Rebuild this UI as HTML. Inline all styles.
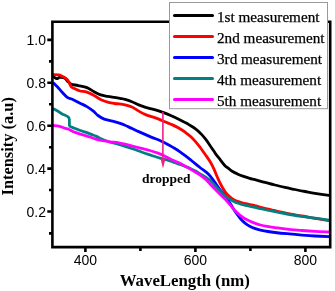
<!DOCTYPE html>
<html><head><meta charset="utf-8">
<style>
html,body{margin:0;padding:0;background:#fff;width:335px;height:291px;overflow:hidden}
svg{display:block;will-change:transform}
.tk{font-family:"Liberation Sans",sans-serif;font-size:14px;fill:#000}
.lg{font-family:"Liberation Serif",serif;font-size:15.2px;fill:#000;stroke:#000;stroke-width:0.25px}
.lb{font-family:"Liberation Serif",serif;font-weight:bold;font-size:16px;fill:#000}
</style></head><body>
<svg width="335" height="291" viewBox="0 0 335 291">
<g id="curves" fill="none" stroke-linejoin="round" stroke-linecap="round" stroke-width="2.8">
<path stroke="#000" d="M53.5,76.7 C54.1,77.0 55.9,78.6 56.9,78.7 C57.9,78.8 58.4,77.5 59.7,77.4 C61.0,77.3 63.0,77.2 64.5,78.0 C66.0,78.8 67.4,81.2 68.6,82.2 C69.8,83.2 69.8,83.6 71.4,84.2 C73.0,84.8 75.6,85.0 78.2,85.6 C80.8,86.2 84.3,86.6 86.9,87.6 C89.5,88.6 91.4,90.3 93.7,91.5 C96.0,92.7 98.3,94.1 100.6,94.9 C102.9,95.7 105.2,95.9 107.5,96.3 C109.8,96.7 112.3,97.0 114.4,97.3 C116.5,97.6 118.2,97.9 120.0,98.3 C121.8,98.7 123.0,98.8 125.0,99.4 C127.0,100.0 129.6,100.9 131.9,101.8 C134.2,102.7 136.4,104.0 138.7,104.9 C141.0,105.8 143.3,106.6 145.6,107.3 C147.9,108.0 150.2,108.5 152.5,109.1 C154.8,109.7 157.3,110.4 159.4,111.1 C161.5,111.8 162.9,112.3 165.0,113.1 C167.1,113.9 169.6,115.0 171.9,116.0 C174.2,117.0 176.5,118.1 178.7,119.2 C180.9,120.3 183.3,121.5 185.2,122.6 C187.1,123.6 188.6,124.5 190.3,125.5 C192.0,126.5 193.8,127.6 195.5,128.9 C197.2,130.2 198.9,131.7 200.6,133.4 C202.3,135.2 204.0,137.1 205.8,139.4 C207.6,141.7 209.6,144.9 211.2,147.2 C212.8,149.5 213.8,151.2 215.3,153.4 C216.9,155.6 218.9,158.0 220.5,160.1 C222.1,162.2 223.7,164.4 225.0,165.8 C226.3,167.2 227.3,167.4 228.5,168.3 C229.7,169.2 230.7,170.4 232.2,171.3 C233.7,172.2 235.5,173.1 237.4,173.9 C239.3,174.8 241.6,175.7 243.6,176.4 C245.6,177.1 247.8,177.8 249.7,178.3 C251.6,178.9 252.4,179.0 255.0,179.7 C257.6,180.4 261.7,181.4 265.0,182.3 C268.3,183.2 271.7,184.2 275.0,185.0 C278.3,185.8 281.7,186.7 285.0,187.4 C288.3,188.2 291.7,188.8 295.0,189.5 C298.3,190.2 301.7,190.9 305.0,191.5 C308.3,192.1 311.0,192.7 315.0,193.3 C319.0,194.0 326.7,195.1 329.0,195.4"/>
<path stroke="#f00" d="M53.5,74.6 C54.4,74.6 57.4,74.6 59.0,74.9 C60.6,75.2 61.7,76.0 63.1,76.7 C64.5,77.5 66.2,78.4 67.2,79.4 C68.2,80.4 68.6,81.6 69.3,82.9 C70.0,84.2 70.4,86.0 71.4,87.0 C72.4,88.0 74.1,88.3 75.5,89.0 C76.9,89.7 78.1,90.5 80.0,91.0 C81.9,91.5 84.6,91.5 86.9,92.2 C89.2,92.9 91.4,94.0 93.7,95.3 C96.0,96.5 98.5,98.5 101.0,99.7 C103.5,100.9 106.3,101.7 108.5,102.3 C110.7,102.9 112.6,103.2 114.4,103.5 C116.2,103.8 117.6,103.7 119.4,103.9 C121.2,104.1 122.9,104.3 125.0,104.8 C127.1,105.3 129.6,106.0 131.9,107.0 C134.2,108.0 136.4,109.8 138.7,111.1 C141.0,112.4 143.3,113.6 145.6,114.6 C147.9,115.6 150.2,116.1 152.5,116.9 C154.8,117.7 157.3,118.6 159.4,119.4 C161.5,120.2 162.9,120.9 165.0,121.8 C167.1,122.7 169.6,123.6 171.9,124.6 C174.2,125.6 176.5,126.7 178.7,128.0 C180.9,129.3 183.3,130.8 185.2,132.2 C187.1,133.6 188.6,134.7 190.3,136.3 C192.0,137.9 193.8,139.7 195.5,141.6 C197.2,143.5 199.0,145.9 200.6,148.0 C202.2,150.1 203.4,151.9 205.0,154.2 C206.6,156.5 208.7,159.3 210.2,161.8 C211.7,164.3 212.8,166.6 214.0,169.2 C215.2,171.8 216.4,175.0 217.5,177.5 C218.6,180.0 219.2,181.5 220.5,184.0 C221.8,186.5 223.8,190.1 225.5,192.3 C227.2,194.6 229.0,196.1 230.6,197.5 C232.2,198.9 233.7,199.8 235.3,200.6 C236.9,201.4 238.3,201.6 240.0,202.1 C241.7,202.6 243.1,203.1 245.6,203.7 C248.1,204.3 252.3,204.9 255.0,205.6 C257.7,206.2 259.1,206.8 262.0,207.6 C264.9,208.4 268.3,209.2 272.5,210.2 C276.7,211.1 282.1,212.3 287.0,213.3 C291.9,214.3 297.3,215.2 302.0,216.0 C306.7,216.8 310.5,217.6 315.0,218.4 C319.5,219.2 326.7,220.2 329.0,220.6"/>
<path stroke="#00f" d="M53.5,82.9 C54.2,83.6 56.2,85.5 57.6,87.0 C59.0,88.5 60.1,90.1 61.7,91.8 C63.3,93.5 65.4,96.0 67.2,97.3 C69.0,98.6 70.6,98.4 72.7,99.4 C74.8,100.4 77.6,102.0 80.0,103.2 C82.4,104.4 84.6,105.2 86.9,106.6 C89.2,108.0 91.9,109.9 93.7,111.4 C95.5,112.9 96.2,114.2 98.0,115.5 C99.8,116.8 101.8,118.2 104.2,119.1 C106.6,120.0 110.0,120.4 112.5,121.1 C115.0,121.8 117.3,122.5 119.4,123.2 C121.5,123.9 122.9,124.4 125.0,125.3 C127.1,126.2 129.6,127.4 131.9,128.4 C134.2,129.5 136.4,130.6 138.7,131.6 C141.0,132.6 143.3,133.6 145.6,134.6 C147.9,135.6 150.1,136.6 152.5,137.6 C154.9,138.6 157.6,139.5 160.0,140.6 C162.4,141.7 164.6,142.7 166.9,143.9 C169.2,145.1 171.5,146.5 173.7,147.8 C175.9,149.1 178.1,150.5 180.0,151.8 C181.9,153.1 183.5,154.3 185.2,155.6 C186.9,156.9 188.6,158.2 190.3,159.6 C192.0,161.0 193.8,162.5 195.5,163.9 C197.2,165.3 198.9,166.7 200.6,168.0 C202.3,169.3 204.2,170.5 205.8,171.8 C207.4,173.1 208.4,173.9 210.0,175.8 C211.6,177.7 213.7,180.6 215.4,183.0 C217.1,185.4 218.6,187.8 220.3,190.0 C222.0,192.2 223.7,194.0 225.5,196.5 C227.3,199.0 229.4,202.2 231.0,204.8 C232.6,207.4 233.7,209.5 235.3,211.8 C236.9,214.1 238.8,216.8 240.5,218.7 C242.2,220.6 243.7,222.1 245.3,223.4 C246.9,224.7 248.5,225.6 250.2,226.5 C251.9,227.4 253.6,228.0 255.3,228.6 C257.0,229.2 258.8,229.7 260.5,230.1 C262.2,230.5 263.2,230.7 265.6,231.1 C268.0,231.5 271.4,232.1 275.0,232.5 C278.6,232.9 282.5,233.3 287.0,233.7 C291.5,234.1 297.3,234.7 302.0,235.1 C306.7,235.5 310.5,235.8 315.0,236.0 C319.5,236.2 326.7,236.5 329.0,236.6"/>
<path stroke="#008080" d="M53.5,108.9 C54.2,109.2 56.2,110.2 57.6,111.0 C59.0,111.8 59.8,112.6 61.7,113.7 C63.6,114.8 67.5,115.6 68.8,117.6 C70.1,119.6 69.0,124.0 69.5,125.6 C70.0,127.2 71.0,126.7 72.0,127.2 C73.0,127.7 73.8,128.0 75.2,128.5 C76.6,129.1 78.6,129.9 80.3,130.5 C82.0,131.1 83.8,131.5 85.5,132.1 C87.2,132.7 88.9,133.4 90.6,134.1 C92.3,134.8 94.2,135.4 95.8,136.1 C97.4,136.8 98.6,137.5 100.0,138.2 C101.4,138.8 102.4,139.4 104.0,140.0 C105.6,140.6 107.4,141.3 109.7,142.0 C112.0,142.7 115.5,143.4 118.0,144.1 C120.5,144.8 122.5,145.6 125.0,146.4 C127.5,147.2 130.4,148.1 133.2,149.0 C135.9,149.9 139.0,151.1 141.5,152.0 C144.0,152.9 145.3,153.4 148.4,154.4 C151.5,155.4 156.9,157.3 160.0,158.2 C163.1,159.1 164.6,159.3 166.9,160.0 C169.2,160.7 171.5,161.6 173.7,162.3 C175.9,163.1 178.1,163.8 180.0,164.5 C181.9,165.2 183.5,165.8 185.2,166.5 C186.9,167.2 188.6,167.8 190.3,168.6 C192.0,169.4 193.8,170.2 195.5,171.1 C197.2,172.0 198.9,173.2 200.6,174.2 C202.3,175.2 204.2,176.3 205.8,177.3 C207.4,178.3 208.4,178.8 210.0,180.2 C211.6,181.6 213.5,184.0 215.2,185.8 C216.9,187.6 218.6,189.2 220.3,191.0 C222.0,192.8 223.8,194.9 225.5,196.3 C227.2,197.7 228.8,198.6 230.4,199.6 C232.0,200.6 233.7,201.5 235.3,202.2 C236.9,202.9 238.3,203.3 240.0,203.8 C241.7,204.3 243.1,204.7 245.6,205.3 C248.1,205.9 252.3,206.8 255.0,207.4 C257.7,208.0 259.1,208.4 262.0,209.0 C264.9,209.6 268.3,210.3 272.5,211.1 C276.7,211.9 282.1,213.1 287.0,214.0 C291.9,214.9 297.3,215.7 302.0,216.4 C306.7,217.1 310.5,217.6 315.0,218.2 C319.5,218.8 326.7,219.9 329.0,220.2"/>
<path stroke="#f0f" d="M53.5,125.5 C54.4,125.6 57.2,125.6 59.0,126.1 C60.8,126.5 62.9,127.7 64.5,128.2 C66.1,128.7 67.3,128.8 68.6,129.3 C69.8,129.8 70.9,130.5 72.0,131.0 C73.1,131.5 73.8,131.9 75.2,132.4 C76.6,132.9 78.6,133.6 80.3,134.1 C82.0,134.6 83.8,135.1 85.5,135.6 C87.2,136.1 88.9,136.6 90.6,137.2 C92.3,137.8 94.2,138.6 95.8,139.1 C97.4,139.6 97.7,139.8 100.0,140.2 C102.3,140.6 106.7,141.4 109.7,141.8 C112.7,142.2 115.5,142.3 118.0,142.7 C120.5,143.1 122.5,143.4 125.0,144.0 C127.5,144.6 130.4,145.6 133.2,146.3 C135.9,147.0 138.8,147.7 141.5,148.4 C144.2,149.1 146.9,149.7 149.7,150.5 C152.4,151.3 155.4,152.2 158.0,153.1 C160.6,154.0 162.4,154.9 165.0,156.2 C167.6,157.4 171.1,159.4 173.6,160.6 C176.1,161.8 178.1,162.4 180.0,163.3 C181.9,164.2 183.5,165.2 185.2,166.2 C186.9,167.2 188.6,168.1 190.3,169.1 C192.0,170.1 193.8,171.2 195.5,172.2 C197.2,173.2 198.9,174.1 200.6,175.3 C202.3,176.5 204.2,178.0 205.8,179.4 C207.4,180.8 208.4,182.3 210.0,184.0 C211.6,185.7 213.5,187.6 215.2,189.4 C216.9,191.2 218.6,192.9 220.3,194.6 C222.0,196.2 223.7,197.6 225.3,199.3 C227.0,201.0 228.5,202.9 230.2,204.8 C231.9,206.8 233.6,209.2 235.3,211.0 C237.0,212.8 238.9,214.3 240.5,215.6 C242.1,216.9 243.4,217.9 245.0,218.8 C246.6,219.8 248.5,220.5 250.2,221.3 C251.9,222.1 253.6,222.8 255.3,223.4 C257.0,224.0 258.8,224.6 260.5,225.0 C262.2,225.4 263.2,225.7 265.6,226.1 C268.0,226.5 271.4,227.1 275.0,227.6 C278.6,228.1 282.5,228.7 287.0,229.2 C291.5,229.7 297.3,230.1 302.0,230.5 C306.7,230.9 310.5,231.2 315.0,231.4 C319.5,231.7 326.7,231.9 329.0,232.0"/>
</g>
<!-- arrow -->
<line x1="162.9" y1="112" x2="162.9" y2="160" stroke="#f0208a" stroke-width="1.6"/>
<path d="M160.5,158.6 L165.5,158.6 L163,168.5 Z" fill="#f0208a"/>
<text x="142" y="182.9" font-family="Liberation Serif" font-weight="bold" font-size="13.5">dropped</text>
<!-- frame -->
<g stroke="#000" stroke-width="2.6" fill="none">
<path d="M52.4,21.8 L330.2,21.8 L330.2,247.1 L52.4,247.1 Z"/>
<path d="M85.4,247 V252 M195.4,247 V252 M305.4,247 V252 M140.4,247 V251 M250.4,247 V251"/>
<path d="M52.4,211.5 H47.3 M52.4,168.6 H47.3 M52.4,125.7 H47.3 M52.4,82.8 H47.3 M52.4,39.9 H47.3 M52.4,233.4 H49 M52.4,190 H49 M52.4,147.2 H49 M52.4,104.3 H49 M52.4,61.4 H49"/>
</g>
<g class="tk" text-anchor="middle">
<text x="85.4" y="265.3">400</text>
<text x="195.4" y="265.3">600</text>
<text x="305.4" y="265.3">800</text>
</g>
<g class="tk" text-anchor="end">
<text x="46" y="216.6">0.2</text>
<text x="46" y="173.7">0.4</text>
<text x="46" y="130.8">0.6</text>
<text x="46" y="87.9">0.8</text>
<text x="46" y="45">1.0</text>
</g>
<text class="lb" x="184.8" y="285.5" text-anchor="middle" style="font-size:16.8px">WaveLength (nm)</text>
<text class="lb" transform="translate(12.6,146.3) rotate(-90)" text-anchor="middle" style="font-size:16.4px">Intensity (a.u)</text>
<!-- legend -->
<rect x="169.5" y="2.5" width="158" height="106.2" fill="#fff" stroke="#999" stroke-width="1"/>
<g stroke-width="3" stroke-linecap="round">
<line x1="174.5" y1="15.5" x2="212.5" y2="15.5" stroke="#000"/>
<line x1="174.5" y1="36.4" x2="212.5" y2="36.4" stroke="#f00"/>
<line x1="174.5" y1="57.5" x2="212.5" y2="57.5" stroke="#00f"/>
<line x1="174.5" y1="78.5" x2="212.5" y2="78.5" stroke="#008080"/>
<line x1="174.5" y1="99.4" x2="212.5" y2="99.4" stroke="#f0f"/>
</g>
<g class="lg">
<text x="217" y="21.7">1st measurement</text>
<text x="217" y="42.8">2nd measurement</text>
<text x="217" y="63.9">3rd measurement</text>
<text x="217" y="85">4th measurement</text>
<text x="217" y="106.1">5th measurement</text>
</g>
</svg>
</body></html>
